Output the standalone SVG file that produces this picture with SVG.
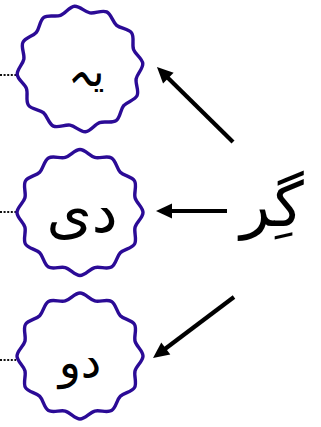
<svg xmlns="http://www.w3.org/2000/svg" width="321" height="427" viewBox="0 0 321 427">
<style>
.wave{fill:#ffffff;stroke:#2b0b96;stroke-width:3.4}
.dots{stroke:#111;stroke-width:2;stroke-dasharray:2 1.6;fill:none}
.arr{stroke:#000;stroke-width:4.2;fill:none;marker-end:url(#ah)}
.lbl{font-family:"DejaVu Sans",sans-serif;fill:#000;text-anchor:middle}
.big{font-family:"DejaVu Sans",sans-serif;font-size:62px;fill:#000;text-anchor:middle}
</style>
<defs>
<path id="wv" d="M63,0 C63,5.2 56.41,9.73 55.06,14.75 S57.16,27 54.56,31.5 S43.98,36.62 40.3,40.3 S36,51.96 31.5,54.56 S19.77,53.71 14.75,55.06 S5.2,63 0,63 S-9.73,56.41 -14.75,55.06 S-27,57.16 -31.5,54.56 S-36.62,43.98 -40.3,40.3 S-51.96,36 -54.56,31.5 S-53.71,19.77 -55.06,14.75 S-63,5.2 -63,0 S-56.41,-9.73 -55.06,-14.75 S-57.16,-27 -54.56,-31.5 S-43.98,-36.62 -40.3,-40.3 S-36,-51.96 -31.5,-54.56 S-19.77,-53.71 -14.75,-55.06 S-5.2,-63 0,-63 S9.73,-56.41 14.75,-55.06 S27,-57.16 31.5,-54.56 S36.62,-43.98 40.3,-40.3 S51.96,-36 54.56,-31.5 S53.71,-19.77 55.06,-14.75 S63,-5.2 63,0 Z"/>
<marker id="ah" markerUnits="userSpaceOnUse" markerWidth="20" markerHeight="20" viewBox="-2 -10 20 20" refX="4" refY="0" orient="auto">
<path d="M0,-7.5 L16,0 L0,7.5 Z" fill="#000"/>
</marker>
</defs>
<rect width="321" height="427" fill="#ffffff"/>
<g id="node-ye">
<line class="dots" x1="0" y1="75" x2="16" y2="75"/>
<use href="#wv" class="wave" transform="translate(80,69) rotate(-5)"/>
<text class="lbl" x="86" y="86" font-size="42">یہ</text>
</g>
<g id="node-di">
<line class="dots" x1="0" y1="212" x2="16" y2="212"/>
<use href="#wv" class="wave" transform="translate(80,212.5)"/>
<text class="lbl" x="82" y="232" font-size="58">دی</text>
</g>
<g id="node-do">
<line class="dots" x1="0" y1="360" x2="16" y2="360"/>
<use href="#wv" class="wave" transform="translate(80,356)"/>
<text class="lbl" x="80" y="378" font-size="46">دو</text>
</g>
<g id="node-gir">
<text class="big" x="272" y="226">گِر</text>
</g>
<g id="connectors">
<line class="arr" x1="233" y1="142" x2="165.5" y2="75.4"/>
<line class="arr" x1="227" y1="211" x2="168" y2="211"/>
<line class="arr" x1="234" y1="297" x2="162.6" y2="350.8"/>
</g>
</svg>
